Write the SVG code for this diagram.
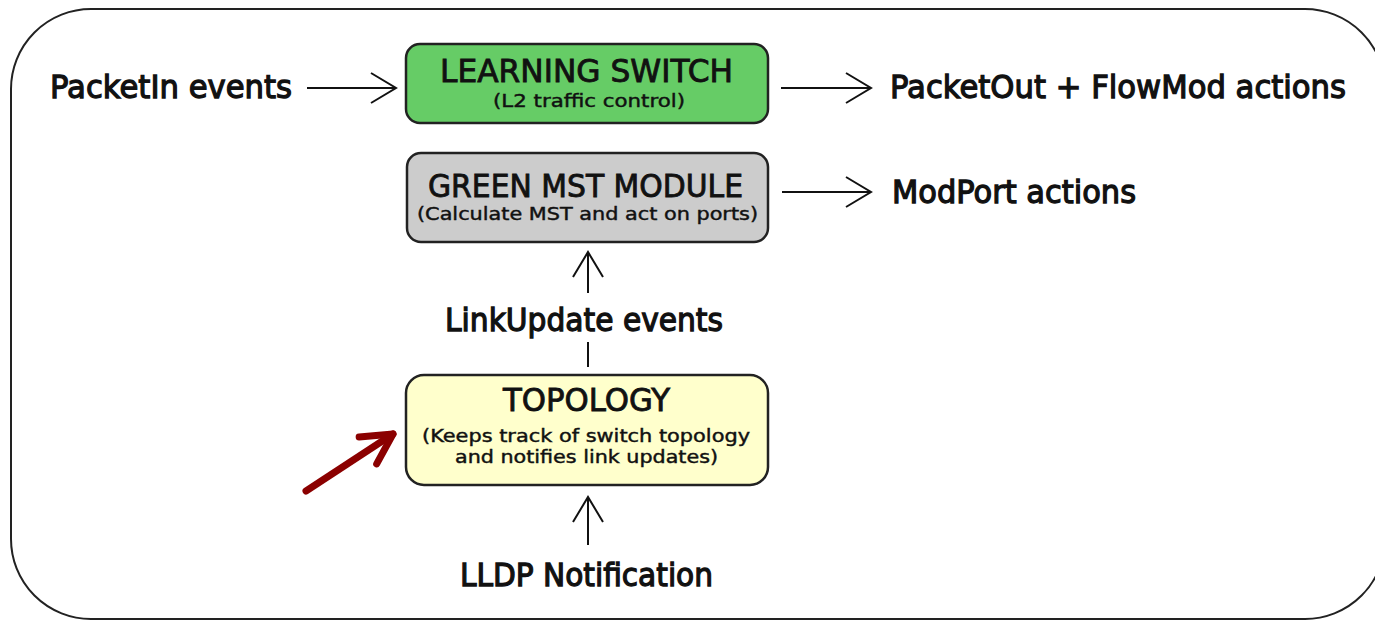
<svg xmlns="http://www.w3.org/2000/svg" width="1375" height="620" viewBox="0 0 1375 620">
<style>
.lbl{font-family:"DejaVu Sans","Verdana",sans-serif;font-size:32px;fill:#111;stroke:#111;stroke-width:1.3}
.ttl{font-family:"DejaVu Sans","Verdana",sans-serif;font-size:32px;fill:#111;stroke:#111;stroke-width:0.9}
.sub{font-family:"DejaVu Sans","Verdana",sans-serif;font-size:18px;fill:#111;stroke:#111;stroke-width:0.45}
.box{stroke:#222;stroke-width:2.5}
.con{fill:none;stroke:#111;stroke-width:2}
</style>
<defs>
<marker id="open" markerUnits="userSpaceOnUse" markerWidth="30" markerHeight="34" refX="27" refY="16" orient="auto">
<path d="M2,1 L27,16 L2,31" fill="none" stroke="#111" stroke-width="2"/>
</marker>
<marker id="red" markerUnits="userSpaceOnUse" markerWidth="50" markerHeight="50" refX="40" refY="25" orient="auto">
<path d="M10,9 L40,25 L10,41" fill="none" stroke="#8b0000" stroke-width="7" stroke-linecap="round" stroke-linejoin="round"/>
</marker>
</defs>
<rect x="11" y="9" width="1374" height="610" rx="80" ry="80" fill="#fff" stroke="#222" stroke-width="2"/>
<g id="learning-switch">
<rect class="box" x="406" y="44" width="362" height="79" rx="14" fill="#66cc66"/>
<text class="ttl" x="440" y="82" textLength="293" lengthAdjust="spacingAndGlyphs">LEARNING SWITCH</text>
<text class="sub" x="493" y="107" textLength="192" lengthAdjust="spacingAndGlyphs">(L2 traffic control)</text>
</g>
<g id="green-mst">
<rect class="box" x="407" y="153" width="361" height="89" rx="14" fill="#cccccc"/>
<text class="ttl" x="428" y="197" font-size="30" textLength="315" lengthAdjust="spacingAndGlyphs">GREEN MST MODULE</text>
<text class="sub" x="417" y="220" font-size="17" textLength="341" lengthAdjust="spacingAndGlyphs">(Calculate MST and act on ports)</text>
</g>
<g id="topology">
<rect class="box" x="406" y="375" width="362" height="110" rx="18" fill="#ffffcc"/>
<text class="ttl" x="503" y="411" textLength="167" lengthAdjust="spacingAndGlyphs">TOPOLOGY</text>
<text class="sub" x="422" y="442" textLength="328" lengthAdjust="spacingAndGlyphs">(Keeps track of switch topology</text>
<text class="sub" x="455" y="463" textLength="263" lengthAdjust="spacingAndGlyphs">and notifies link updates)</text>
</g>
<g id="labels">
<text class="lbl" x="50" y="98" textLength="242" lengthAdjust="spacingAndGlyphs">PacketIn events</text>
<text class="lbl" x="890" y="98" textLength="456" lengthAdjust="spacingAndGlyphs">PacketOut + FlowMod actions</text>
<text class="lbl" x="892" y="203" textLength="244" lengthAdjust="spacingAndGlyphs">ModPort actions</text>
<text class="lbl" x="445" y="331" textLength="278" lengthAdjust="spacingAndGlyphs">LinkUpdate events</text>
<text class="lbl" x="460" y="586" textLength="253" lengthAdjust="spacingAndGlyphs">LLDP Notification</text>
</g>
<g id="connectors">
<line class="con" x1="307" y1="88" x2="396" y2="88" marker-end="url(#open)"/>
<line class="con" x1="781" y1="88" x2="871" y2="88" marker-end="url(#open)"/>
<line class="con" x1="782" y1="192" x2="871" y2="192" marker-end="url(#open)"/>
<line class="con" x1="588" y1="367" x2="588" y2="342"/>
<line class="con" x1="588" y1="293" x2="588" y2="252" marker-end="url(#open)"/>
<line class="con" x1="588" y1="545" x2="588" y2="497" marker-end="url(#open)"/>
<line x1="306" y1="491" x2="393" y2="434" stroke="#8b0000" stroke-width="7" stroke-linecap="round" marker-end="url(#red)"/>
</g>
</svg>
